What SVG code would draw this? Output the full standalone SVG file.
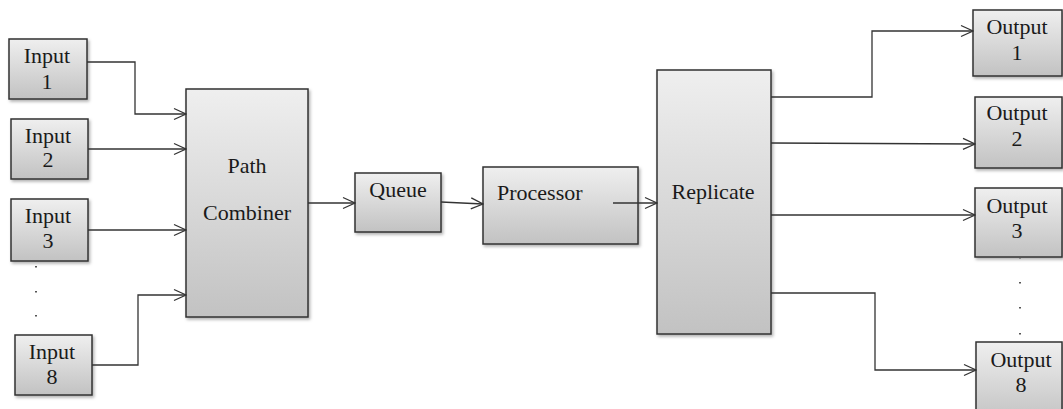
<svg xmlns="http://www.w3.org/2000/svg" width="1063" height="409" viewBox="0 0 1063 409">
  <defs>
    <linearGradient id="g" x1="0" y1="0" x2="0" y2="1">
      <stop offset="0" stop-color="#efefef"/>
      <stop offset="1" stop-color="#c2c2c2"/>
    </linearGradient>
    <filter id="sh" x="-10%" y="-10%" width="130%" height="130%">
      <feDropShadow dx="1.5" dy="2" stdDeviation="1.5" flood-color="#000" flood-opacity="0.3"/>
    </filter>
    <marker id="arr" viewBox="0 0 14 14" refX="13" refY="7" markerWidth="14" markerHeight="14" markerUnits="userSpaceOnUse" orient="auto">
      <path d="M1,1.5 L13,7 L1,12.5" fill="none" stroke="#333" stroke-width="1.3"/>
    </marker>
    <style>
      .box { fill: url(#g); stroke: #333; stroke-width: 1.5; filter: url(#sh); }
      .t { font-size: 22px; fill: #1a1a1a; }
      .c { text-anchor: middle; }
      .ln { fill: none; stroke: #333; stroke-width: 1.3; marker-end: url(#arr); }
      .dot { fill: #555; }
    </style>
  </defs>
  <rect width="1063" height="409" fill="#fff"/>

  <g font-family="'Liberation Serif', 'Times New Roman', serif">
  <g id="input1"><rect class="box" x="9" y="39" width="78" height="60"/><text class="t c" x="47" y="63">Input</text><text class="t c" x="47" y="89">1</text></g>
  <g id="input2"><rect class="box" x="11" y="119" width="77" height="60"/><text class="t c" x="48" y="143">Input</text><text class="t c" x="48" y="167">2</text></g>
  <g id="input3"><rect class="box" x="11" y="199" width="77" height="62"/><text class="t c" x="48" y="223">Input</text><text class="t c" x="48" y="248">3</text></g>
  <g id="input-dots">
    <rect class="dot" x="35" y="266" width="2" height="1.5"/>
    <rect class="dot" x="35" y="291" width="2" height="1.5"/>
    <rect class="dot" x="35" y="315" width="2" height="1.5"/>
  </g>
  <g id="input8"><rect class="box" x="15" y="335" width="77" height="60"/><text class="t c" x="52" y="359">Input</text><text class="t c" x="52" y="384">8</text></g>

  <g id="pathcombiner"><rect class="box" x="186" y="89" width="122" height="228"/><text class="t c" x="247" y="173">Path</text><text class="t c" x="247" y="220">Combiner</text></g>
  <g id="queue"><rect class="box" x="355" y="173" width="86" height="59"/><text class="t c" x="398" y="197">Queue</text></g>
  <g id="processor"><rect class="box" x="483" y="167" width="155" height="77"/><text class="t" x="497" y="200">Processor</text></g>
  <g id="replicate"><rect class="box" x="657" y="70" width="114" height="264"/><text class="t c" x="713" y="199">Replicate</text></g>

  <g id="output1"><rect class="box" x="973" y="10" width="89" height="66"/><text class="t c" x="1017" y="34">Output</text><text class="t c" x="1017" y="60">1</text></g>
  <g id="output2"><rect class="box" x="975" y="97" width="87" height="71"/><text class="t c" x="1017" y="120">Output</text><text class="t c" x="1017" y="146">2</text></g>
  <g id="output3"><rect class="box" x="975" y="188" width="87" height="69"/><text class="t c" x="1017" y="213">Output</text><text class="t c" x="1017" y="238">3</text></g>
  <g id="output-dots">
    <rect class="dot" x="1019" y="257" width="2" height="1.5"/>
    <rect class="dot" x="1019" y="282" width="2" height="1.5"/>
    <rect class="dot" x="1019" y="307" width="2" height="1.5"/>
    <rect class="dot" x="1019" y="333" width="2" height="1.5"/>
  </g>
  <g id="output8"><rect class="box" x="976" y="342" width="86" height="80"/><text class="t c" x="1021" y="367">Output</text><text class="t c" x="1021" y="392">8</text></g>
  </g>

  <g id="connectors">
    <path class="ln" d="M87,62 H135 V114 H186"/>
    <path class="ln" d="M88,149 H186"/>
    <path class="ln" d="M88,230 H186"/>
    <path class="ln" d="M92,365 H138 V295 H186"/>
    <path class="ln" d="M308,203 H355"/>
    <path class="ln" d="M441,202 L483,204"/>
    <path class="ln" d="M613,203 H657"/>
    <path class="ln" d="M771,97 H872 V31 H973"/>
    <path class="ln" d="M771,143 L975,144"/>
    <path class="ln" d="M771,215 H975"/>
    <path class="ln" d="M771,293 H875 V370 H976"/>
  </g>
</svg>
